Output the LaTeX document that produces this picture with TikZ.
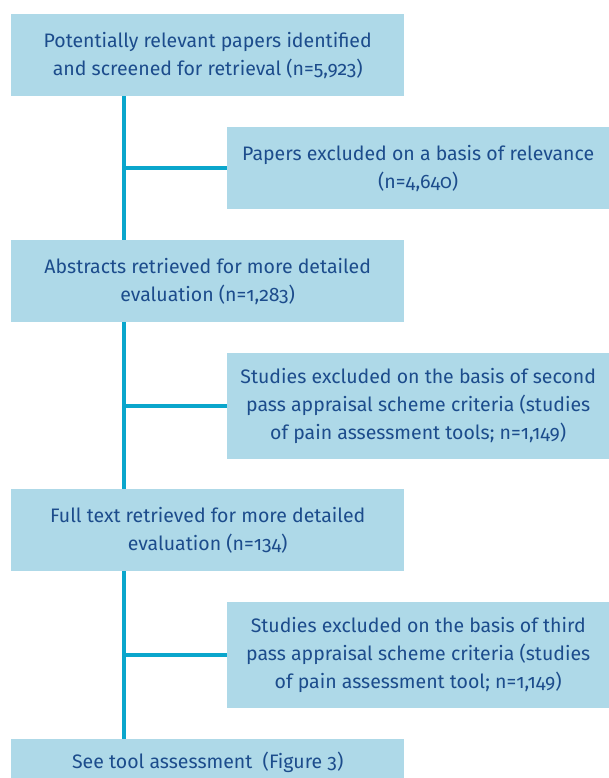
\documentclass[tikz,border=0pt]{standalone}
\usepackage{fontspec}
\setmainfont{Fira Sans}[Numbers=OldStyle]
\usetikzlibrary{positioning}
\definecolor{boxfill}{HTML}{AED9E8}
\definecolor{linkblue}{HTML}{0AA6CC}
\definecolor{inkblue}{HTML}{1C4C8C}
\tikzset{
  stagebox/.style={fill=boxfill, text=inkblue, align=center,
    minimum width=393pt, minimum height=82pt, inner sep=0pt,
    font=\fontsize{19.5}{28}\selectfont, anchor=north west},
  dropbox/.style={stagebox, minimum width=382pt},
  flowline/.style={draw=linkblue, line width=4pt}
}
\begin{document}
\begin{tikzpicture}[x=1pt,y=-1pt]
  \useasboundingbox (0,0) rectangle (609,778);
  % main stages
  \node[stagebox] (found) at (11,14)
    {Potentially relevant papers identified\\and screened for retrieval (n=5,923)};
  \node[stagebox] (abstracts) at (11,240)
    {Abstracts retrieved for more detailed\\evaluation (n=1,283)};
  \node[stagebox] (fulltext) at (11,489)
    {Full text retrieved for more detailed\\evaluation (n=134)};
  \node[stagebox, minimum height=46pt] (tools) at (11,739)
    {See tool assessment~ (Figure 3)};
  % exclusions
  \node[dropbox] (dropA) at (227,127)
    {Papers excluded on a basis of relevance\\(n=4,640)};
  \node[dropbox, minimum height=106pt] (dropB) at (227,353)
    {Studies excluded on the basis of second\\pass appraisal scheme criteria (studies\\of pain assessment tools; n=1,149)};
  \node[dropbox, minimum height=106pt] (dropC) at (227,602)
    {Studies excluded on the basis of third\\pass appraisal scheme criteria (studies\\of pain assessment tool; n=1,149)};
  % spine and branches
  \coordinate (spine) at (124,0);
  \draw[flowline] (spine |- found.south) -- (spine |- abstracts.north);
  \draw[flowline] (spine |- abstracts.south) -- (spine |- fulltext.north);
  \draw[flowline] (spine |- fulltext.south) -- (spine |- tools.north);
  \draw[flowline] (spine |- dropA.west) -- (dropA.west);
  \draw[flowline] (spine |- dropB.west) -- (dropB.west);
  \draw[flowline] (spine |- dropC.west) -- (dropC.west);
\end{tikzpicture}
\end{document}
